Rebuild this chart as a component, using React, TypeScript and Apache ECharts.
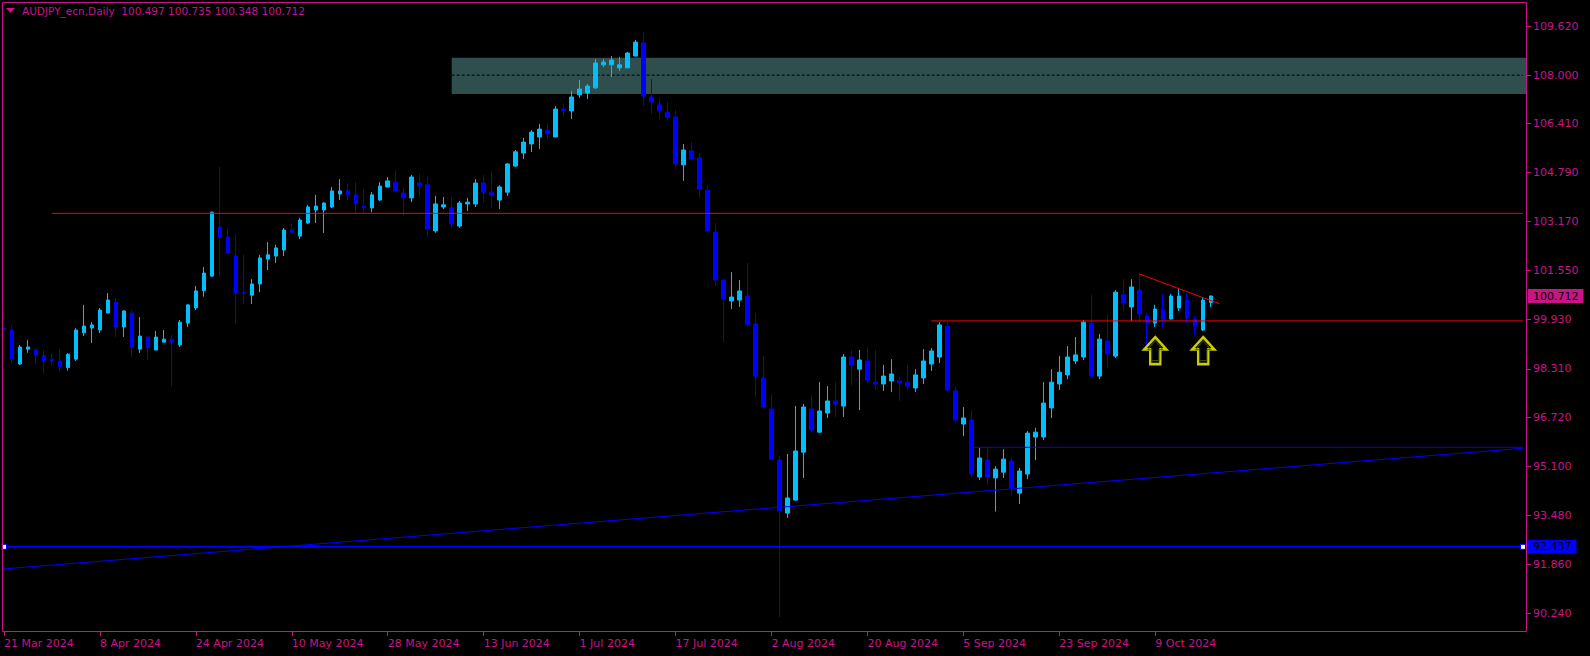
import React, { useEffect, useRef } from 'react';
import * as echarts from 'echarts';

// ---------- data ----------
const OPEN = [
  99.64, 99.59, 98.47, 98.96, 98.93, 98.75, 98.63, 98.57, 98.35, 98.63,
  99.50, 99.66, 99.59, 100.15, 100.51, 99.69, 100.15, 98.96, 99.36, 98.93,
  99.19, 99.29, 99.10, 99.82, 100.32, 100.89, 101.37, 102.99, 102.66, 102.03,
  100.84, 100.74, 101.11, 101.93, 102.03, 102.23, 102.89, 102.69, 103.12, 103.55,
  103.55, 103.65, 104.08, 104.18, 104.05, 103.68, 103.62, 103.88, 104.31, 104.47,
  104.11, 103.95, 104.44, 104.38, 102.86, 103.65, 103.62, 103.02, 103.75, 103.75,
  104.44, 104.14, 103.88, 104.14, 105.00, 105.43, 105.73, 105.96, 106.19, 105.96,
  106.88, 106.82, 107.35, 107.41, 107.58, 108.34, 108.34, 108.24, 108.24, 108.63,
  109.06, 107.28, 107.02, 106.78, 106.62, 105.04, 105.50, 105.27, 104.21, 102.82,
  101.24, 100.55, 100.58, 100.71, 99.79, 98.01, 96.98, 95.30, 93.55, 93.98,
  95.56, 96.98, 96.22, 96.85, 97.25, 97.08, 98.70, 98.30, 98.57, 97.87,
  97.81, 97.91, 97.91, 97.87, 97.68, 98.01, 98.47, 98.70, 99.72, 97.58,
  96.49, 96.62, 94.74, 95.30, 94.71, 94.90, 95.27, 94.21, 94.84, 96.06,
  96.06, 97.02, 97.81, 98.11, 98.57, 98.70, 99.82, 98.07, 99.23, 98.73,
  100.75, 100.35, 100.91, 100.05, 99.82, 100.25, 99.95, 100.32, 100.58, 99.95,
  99.59, 100.497,
];
const HIGH = [
  100.20, 99.73, 99.10, 99.26, 99.01, 98.93, 98.80, 98.96, 98.83, 99.65,
  100.42, 99.85, 100.32, 100.81, 100.65, 100.25, 100.25, 100.02, 99.39, 99.56,
  99.59, 99.43, 99.92, 100.45, 101.04, 101.67, 103.50, 104.97, 102.92, 102.76,
  102.07, 101.27, 102.07, 102.49, 102.40, 102.96, 103.09, 103.29, 103.72, 104.05,
  103.81, 104.31, 104.57, 104.44, 104.47, 104.24, 104.14, 104.47, 104.64, 104.87,
  104.28, 104.71, 104.74, 104.64, 104.01, 103.98, 103.98, 103.85, 103.95, 104.57,
  104.70, 104.84, 104.37, 105.10, 105.53, 105.93, 106.19, 106.39, 106.42, 106.98,
  107.08, 107.48, 107.84, 107.71, 108.53, 108.53, 108.63, 108.60, 108.76, 109.16,
  109.42, 107.87, 107.25, 107.11, 106.85, 105.73, 105.79, 105.43, 104.38, 103.12,
  101.27, 101.50, 101.24, 101.80, 100.15, 98.73, 97.48, 95.43, 95.50, 97.08,
  97.15, 97.45, 97.87, 97.74, 97.87, 98.80, 98.93, 98.93, 99.03, 98.93,
  98.44, 98.63, 98.04, 98.44, 98.30, 98.96, 98.99, 99.85, 99.85, 97.71,
  97.05, 96.95, 95.70, 95.70, 95.10, 95.66, 95.40, 95.04, 96.26, 96.36,
  97.87, 98.30, 98.73, 99.06, 99.36, 99.92, 100.75, 99.46, 100.12, 100.91,
  101.27, 101.27, 101.44, 100.15, 100.42, 100.78, 100.78, 100.94, 100.81, 100.05,
  100.65, 100.735,
];
const LOW = [
  99.26, 98.51, 98.44, 98.84, 98.47, 98.15, 98.44, 98.24, 98.25, 98.57,
  99.39, 99.16, 99.49, 100.15, 99.36, 99.36, 98.70, 98.83, 98.60, 98.93,
  99.19, 97.74, 99.03, 99.69, 100.25, 100.69, 101.34, 101.35, 102.10, 99.80,
  100.45, 100.45, 100.84, 101.57, 101.80, 102.03, 102.76, 102.59, 103.09, 103.12,
  102.79, 103.62, 103.88, 103.88, 103.45, 103.45, 103.48, 103.85, 104.31, 104.11,
  103.35, 103.81, 103.98, 102.65, 102.80, 103.58, 102.96, 102.96, 103.52, 103.65,
  103.81, 103.62, 103.58, 104.01, 104.97, 105.23, 105.46, 105.56, 105.89, 105.96,
  106.62, 106.55, 107.25, 107.21, 107.54, 108.27, 107.94, 108.14, 108.24, 108.63,
  106.98, 106.72, 106.55, 106.49, 104.97, 104.51, 105.17, 103.95, 102.84, 101.04,
  99.19, 100.28, 100.35, 99.74, 97.38, 96.98, 95.30, 90.12, 93.39, 93.96,
  94.71, 96.19, 96.20, 96.69, 96.72, 96.72, 97.77, 96.95, 97.84, 97.61,
  97.58, 97.54, 97.25, 97.64, 97.54, 97.81, 98.24, 98.50, 97.58, 96.55,
  96.09, 94.74, 94.64, 94.48, 93.60, 94.71, 94.14, 93.85, 94.67, 95.30,
  95.96, 96.69, 97.61, 97.97, 98.47, 98.60, 98.01, 97.97, 98.34, 98.67,
  100.22, 99.89, 99.82, 99.10, 99.69, 99.66, 99.95, 100.22, 99.82, 99.43,
  99.56, 100.348,
];
const CLOSE = [
  99.60, 98.63, 99.03, 99.03, 98.77, 98.57, 98.57, 98.37, 98.79, 99.59,
  99.72, 99.76, 100.25, 100.58, 99.69, 100.22, 99.03, 99.39, 99.01, 99.36,
  99.29, 99.19, 99.85, 100.42, 100.88, 101.47, 103.48, 102.64, 102.13, 100.81,
  100.81, 101.11, 101.97, 102.07, 102.30, 102.89, 102.82, 103.22, 103.65, 103.68,
  103.78, 104.18, 104.18, 104.05, 103.75, 103.62, 104.05, 104.34, 104.51, 104.18,
  103.95, 104.64, 104.34, 102.92, 103.75, 103.72, 103.09, 103.78, 103.81, 104.44,
  104.14, 104.04, 104.31, 105.07, 105.47, 105.79, 106.12, 106.22, 106.06, 106.88,
  106.82, 107.28, 107.54, 107.64, 108.40, 108.43, 108.50, 108.34, 108.73, 109.09,
  107.31, 107.11, 106.82, 106.60, 105.07, 105.53, 105.23, 104.24, 102.86, 101.24,
  100.61, 100.68, 100.88, 99.76, 98.07, 97.05, 95.33, 93.62, 94.05, 95.60,
  97.05, 96.29, 96.92, 97.25, 97.15, 98.70, 98.44, 98.60, 97.94, 97.81,
  98.07, 98.14, 97.84, 97.74, 98.11, 98.57, 98.90, 99.76, 97.61, 96.62,
  96.69, 94.84, 95.37, 94.74, 95.00, 95.33, 94.38, 94.94, 96.19, 96.22,
  97.18, 97.87, 98.20, 98.70, 98.77, 99.85, 98.07, 99.29, 98.80, 100.84,
  100.48, 101.01, 100.12, 99.82, 100.28, 99.95, 100.71, 100.71, 99.99, 99.72,
  100.58, 100.712,
];

const Y_TICKS = [90.24, 91.86, 93.48, 95.1, 96.72, 98.31, 99.93, 101.55, 103.17, 104.79, 106.41, 108.0, 109.62];
const FIRST_DATE = '2024-03-21';
const LABEL_EVERY = 12;
const SLOTS = 191; // bars + empty space on the right (chart shift)

const HEADER = 'AUDJPY_ecn,Daily  100.497 100.735 100.348 100.712';

// drawn objects
const ZONE = [56, 108.57, 190, 107.38]; // startBar, top, endBar, bottom
const ZONE_MID = 108.0;
const RED_LEVEL_1 = { from: 6, price: 103.44 };
const RED_LEVEL_2 = { from: 116, price: 99.89 };
const RED_TREND = [[142, 101.44], [152, 100.46]];
const BLUE_TREND = [[0, 91.71], [190, 95.69]];
const BLUE_LEVEL = { from: 121, price: 95.72 };
const HLINE_PRICE = 92.437;
const ARROWS = [[144, 98.91], [150, 98.91]];

// ---------- helpers ----------
const MONTHS = ['Jan', 'Feb', 'Mar', 'Apr', 'May', 'Jun', 'Jul', 'Aug', 'Sep', 'Oct', 'Nov', 'Dec'];
function weekdayLabels(startISO: string, count: number): string[] {
  const out: string[] = [];
  const d = new Date(startISO + 'T00:00:00Z');
  while (out.length < count) {
    const wd = d.getUTCDay();
    if (wd !== 0 && wd !== 6) {
      out.push(`${d.getUTCDate()} ${MONTHS[d.getUTCMonth()]} ${d.getUTCFullYear()}`);
    }
    d.setUTCDate(d.getUTCDate() + 1);
  }
  return out;
}

const PINK = '#C71585';
const BULL = '#00BFFF';
const BEAR = '#0000FF';
const FONT = '"DejaVu Sans", sans-serif';
const ARROW_PATH = 'path://M10.65,0 L21.3,11.7 L15.6,11.7 L15.6,26 L5.7,26 L5.7,11.7 L0,11.7 Z';

export default function App() {
  const ref = useRef<HTMLDivElement>(null);

  useEffect(() => {
    if (!ref.current) return;
    const chart = echarts.init(ref.current, undefined, { renderer: 'svg' });
    const nBars = OPEN.length;
    const dates = weekdayLabels(FIRST_DATE, SLOTS);
    const candles = OPEN.map((o, i) => [o, CLOSE[i], LOW[i], HIGH[i]]);
    const showIdx = (i: number) => i % LABEL_EVERY === 0 && i < nBars;
    const lastIdx = SLOTS - 1;
    const lastClose = CLOSE[CLOSE.length - 1];

    const lineSeries = (data: number[][], color: string, width = 1, type: any = 'solid', z = 4) => ({
      type: 'line',
      data,
      symbol: 'none',
      silent: true,
      z,
      lineStyle: { color, width, type },
    });

    const option: any = {
      animation: false,
      backgroundColor: '#000',
      grid: { left: -1, top: 3, width: SLOTS * 8, height: 628, show: false },
      xAxis: {
        type: 'category',
        data: dates,
        boundaryGap: true,
        axisLine: { show: false },
        axisTick: {
          show: true,
          alignWithLabel: true,
          interval: (i: number) => showIdx(i),
          length: 5,
          lineStyle: { color: PINK },
        },
        axisLabel: {
          interval: (i: number) => showIdx(i),
          align: 'left',
          margin: 7,
          color: PINK,
          fontSize: 11,
          fontFamily: FONT,
          formatter: (v: string, i: number) => (i < nBars ? v : ''),
        },
        splitLine: { show: false },
      },
      yAxis: {
        type: 'value',
        position: 'right',
        min: 89.66,
        max: 110.38,
        axisLine: { show: false },
        axisTick: { show: true, customValues: Y_TICKS, length: 4, lineStyle: { color: PINK } },
        axisLabel: {
          customValues: Y_TICKS,
          formatter: (v: number) => v.toFixed(3),
          color: PINK,
          fontSize: 11,
          fontFamily: FONT,
          margin: 6,
        },
        splitLine: { show: false },
      },
      graphic: [
        {
          type: 'polygon',
          silent: true,
          shape: { points: [[6, 8], [15, 8], [10.5, 13]] },
          style: { fill: PINK },
        },
        {
          type: 'text',
          silent: true,
          x: 22,
          y: 11,
          style: { text: HEADER, fill: PINK, fontSize: 10.5, fontFamily: FONT, verticalAlign: 'middle' },
        },
        {
          type: 'rect',
          silent: true,
          z: 100,
          shape: { x: 2.5, y: 2.5, width: 1524, height: 629 },
          style: { fill: 'none', stroke: PINK, lineWidth: 1 },
        },
      ],
      series: [
        {
          type: 'custom',
          z: 1,
          silent: true,
          data: [ZONE],
          encode: { x: [0, 2], y: [1, 3] },
          renderItem: (params: any, api: any) => {
            const p1 = api.coord([api.value(0), api.value(1)]);
            const p2 = api.coord([api.value(2), api.value(3)]);
            const cs = params.coordSys;
            const right = cs.x + cs.width - 1;
            return {
              type: 'rect',
              shape: { x: p1[0], y: p1[1], width: right - p1[0], height: p2[1] - p1[1] },
              style: { fill: '#2F4F4F' },
            };
          },
        },
        lineSeries([[ZONE[0], ZONE_MID], [lastIdx, ZONE_MID]], '#000', 1, [3, 2], 2),
        {
          type: 'candlestick',
          z: 3,
          data: candles,
          barWidth: 4,
          silent: true,
          itemStyle: {
            color: BULL,
            color0: BEAR,
            borderColor: BULL,
            borderColor0: BEAR,
            borderWidth: 1,
          },
          markLine: {
            silent: true,
            symbol: 'none',
            lineStyle: { color: 'rgba(0,0,0,0)', width: 0 },
            label: {
              show: true,
              position: 'end',
              distance: 1,
              color: '#000',
              fontSize: 11,
              fontFamily: FONT,
              padding: [2, 5, 1, 5],
            },
            data: [
              { yAxis: lastClose, label: { backgroundColor: PINK, formatter: lastClose.toFixed(3) } },
              { yAxis: HLINE_PRICE, label: { backgroundColor: '#0000FF', formatter: HLINE_PRICE.toFixed(3) } },
            ],
          },
        },
        lineSeries([[RED_LEVEL_1.from, RED_LEVEL_1.price], [lastIdx, RED_LEVEL_1.price]], '#FF0000'),
        lineSeries([[RED_LEVEL_2.from, RED_LEVEL_2.price], [lastIdx, RED_LEVEL_2.price]], '#FF0000'),
        lineSeries(RED_TREND, '#FF0000'),
        lineSeries(BLUE_TREND, '#0000FF'),
        lineSeries([[BLUE_LEVEL.from, BLUE_LEVEL.price], [lastIdx, BLUE_LEVEL.price]], '#0000FF'),
        {
          type: 'line',
          z: 4,
          silent: true,
          data: [[0, HLINE_PRICE], [lastIdx, HLINE_PRICE]],
          symbol: 'rect',
          symbolSize: 5,
          showSymbol: true,
          lineStyle: { color: '#0000FF', width: 2 },
          itemStyle: { color: '#FFFFFF', borderColor: '#0000FF', borderWidth: 1 },
        },
        {
          type: 'scatter',
          z: 5,
          silent: true,
          data: ARROWS,
          symbol: ARROW_PATH,
          symbolSize: [22, 27],
          itemStyle: { color: 'rgba(0,0,0,0)', borderColor: '#FFFF00', borderWidth: 2.5 },
        },
        {
          type: 'scatter',
          z: 6,
          silent: true,
          data: ARROWS,
          symbol: ARROW_PATH,
          symbolSize: [15, 20],
          itemStyle: { color: 'rgba(0,0,0,0)', borderColor: '#3F5A10', borderWidth: 1 },
        },
      ],
    };

    chart.setOption(option);
    return () => chart.dispose();
  }, []);

  return (
    <div
      ref={ref}
      style={{ position: 'fixed', left: 0, top: 0, width: 1590, height: 656, background: '#000' }}
    />
  );
}
